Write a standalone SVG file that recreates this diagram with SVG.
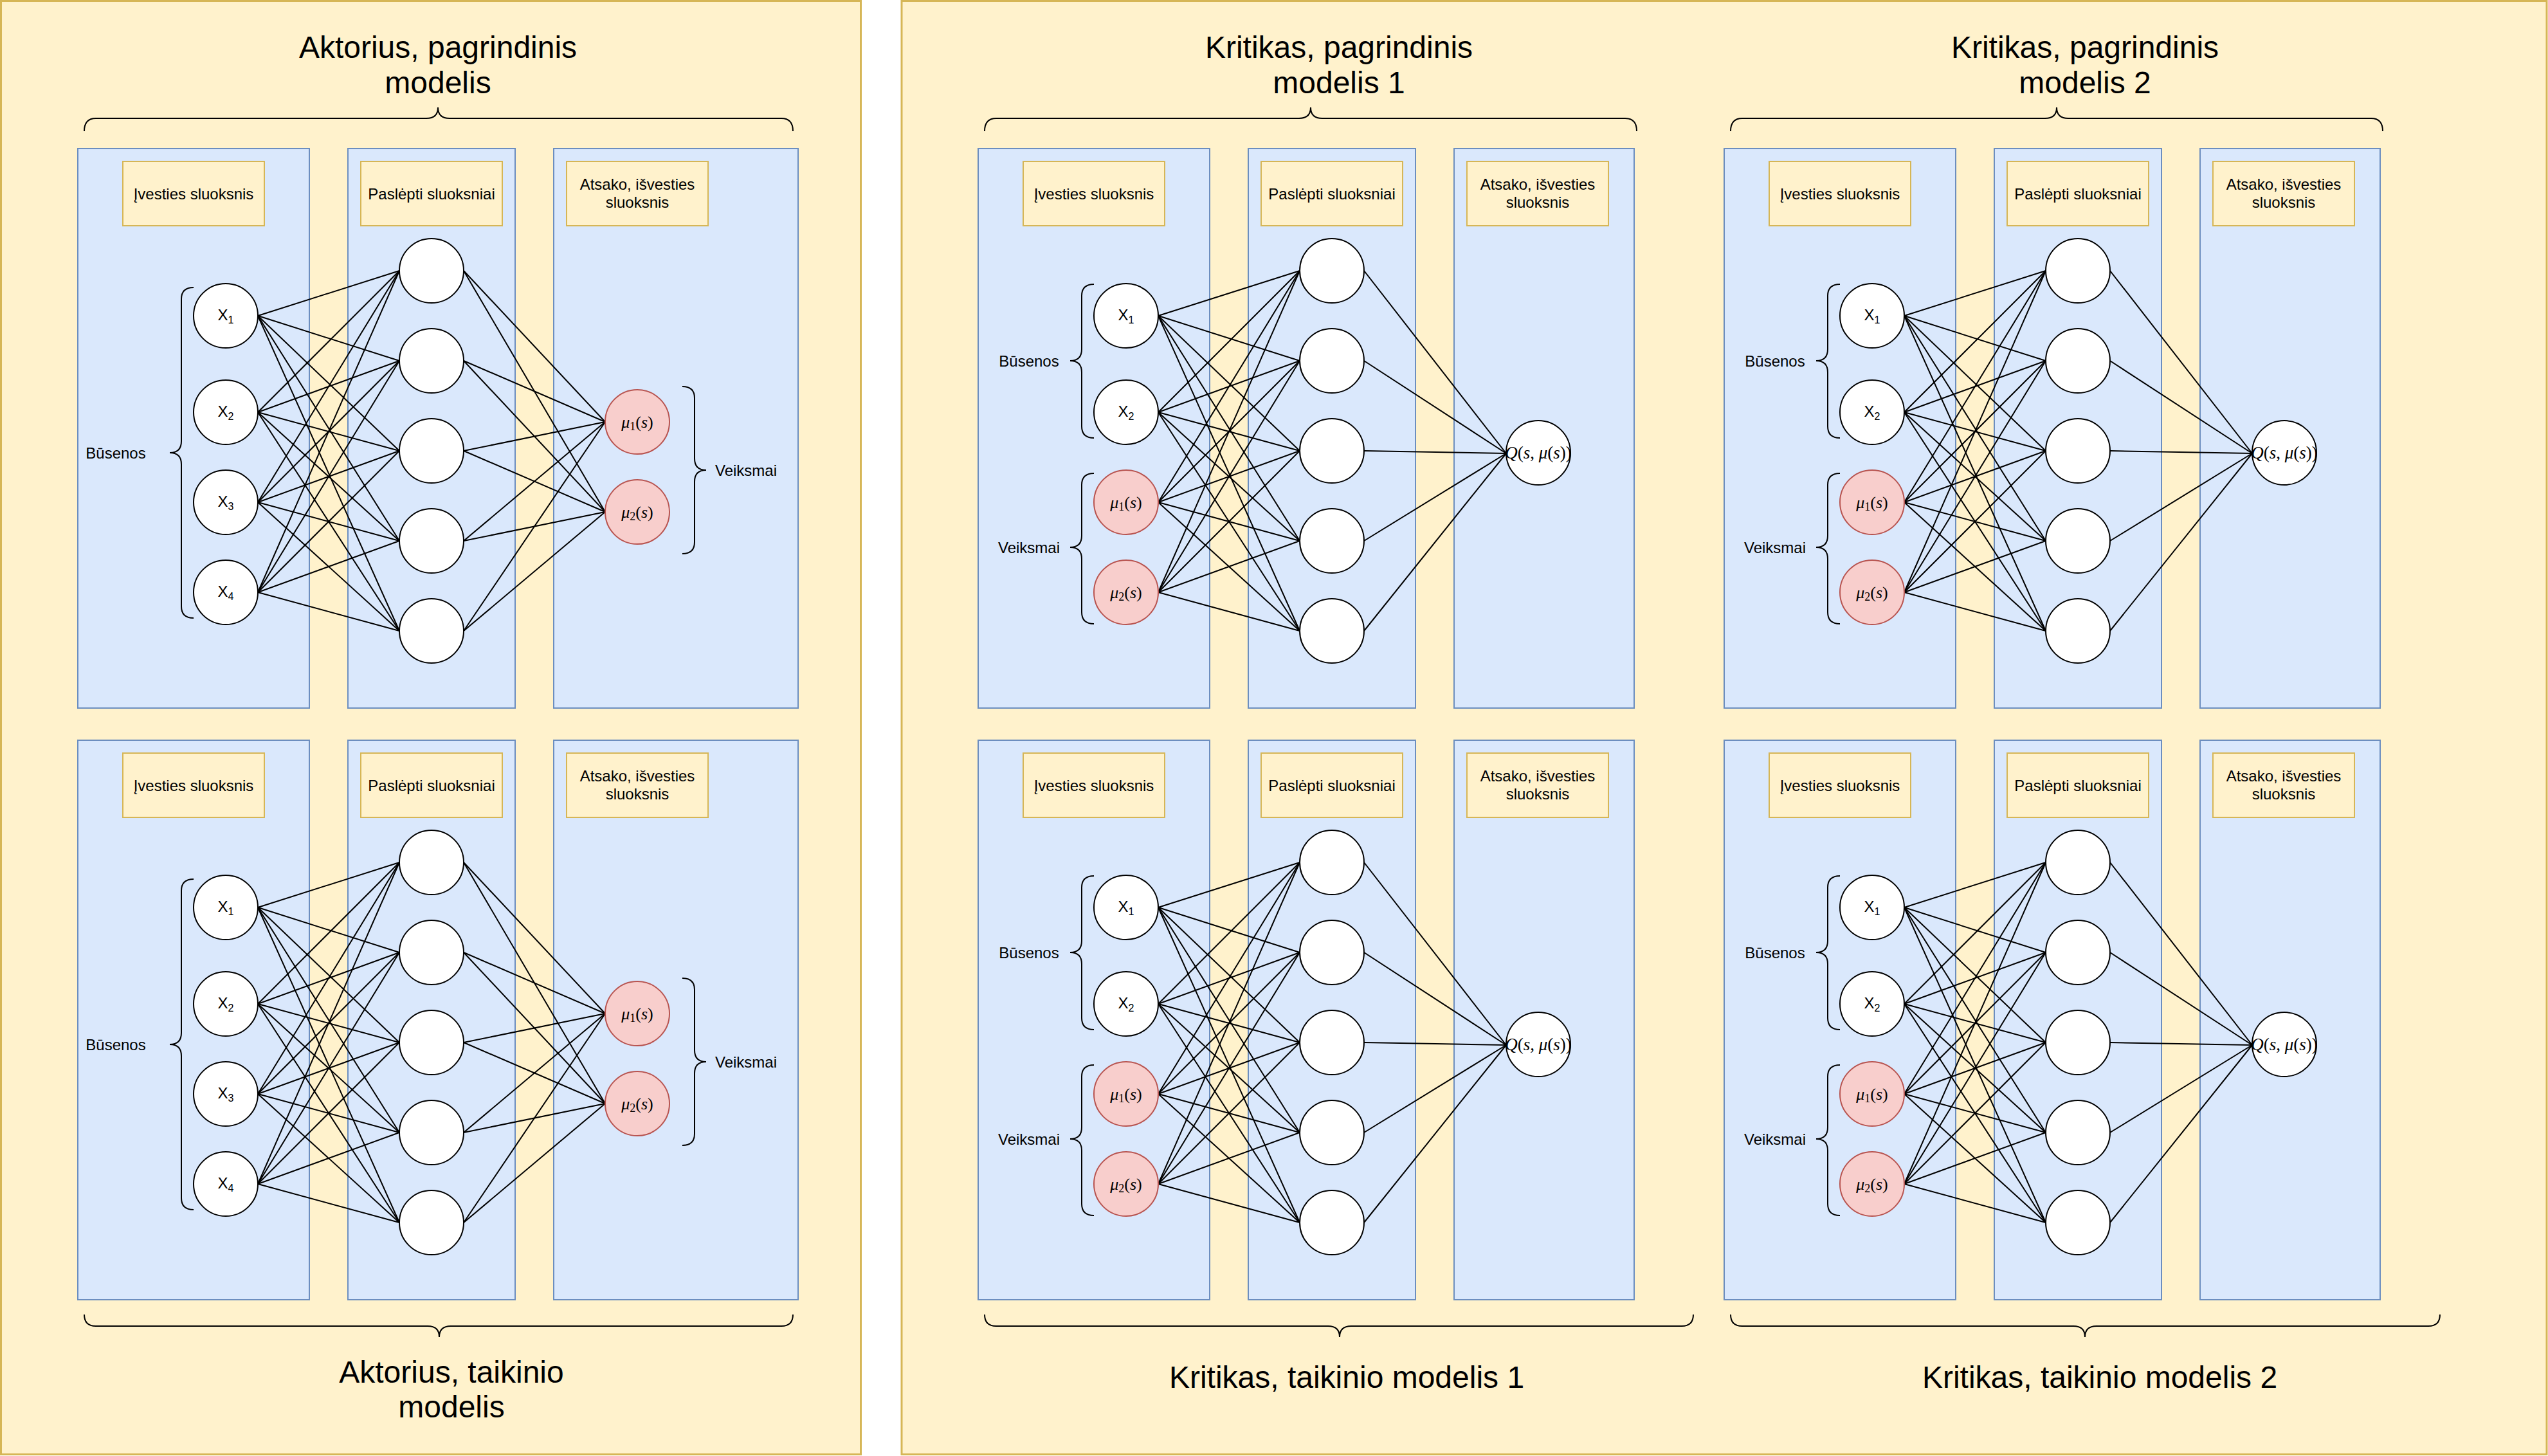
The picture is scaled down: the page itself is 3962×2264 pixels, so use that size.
<svg xmlns="http://www.w3.org/2000/svg" width="3962" height="2264" viewBox="0 0 3962 2264">
<style>
.panel{fill:#fff2cc;stroke:#d6b656;stroke-width:3}
.col{fill:#dae8fc;stroke:#6c8ebf;stroke-width:2}
.lab{fill:#fff2cc;stroke:#d6b656;stroke-width:2}
.n{fill:#ffffff;stroke:#000000;stroke-width:2}
.m{fill:#f8cecc;stroke:#b85450;stroke-width:2}
.e line{stroke:#000000;stroke-width:2}
.br{fill:none;stroke:#000000;stroke-width:2}
text{font-family:"Liberation Sans",Arial,Helvetica,sans-serif;fill:#000000}
.t24{font-size:24px}
.t48{font-size:48px}
.c{text-anchor:middle}
.math{font-family:"Liberation Serif","Times New Roman",serif;font-size:26px;text-anchor:middle}
.mq{font-family:"Liberation Serif","Times New Roman",serif;font-size:27px;text-anchor:middle}
.i{font-style:italic}
</style>

<g id="panels">
<rect class="panel" x="1.5" y="1.5" width="1337" height="2260"/>
<rect class="panel" x="1402" y="1.5" width="2558" height="2260"/>
</g>

<!-- ================= ACTOR MAIN ================= -->
<g id="actor-main">
 <g id="am-layers">
  <rect class="col" x="121" y="231" width="360" height="870"/>
  <rect class="col" x="541" y="231" width="260" height="870"/>
  <rect class="col" x="861" y="231" width="380" height="870"/>
  <g id="am-lab-in"><rect class="lab" x="191" y="251" width="220" height="100"/><text class="t24 c" x="301" y="309.5">Įvesties sluoksnis</text></g>
  <g id="am-lab-hid"><rect class="lab" x="561" y="251" width="220" height="100"/><text class="t24 c" x="671" y="309.5">Paslėpti sluoksniai</text></g>
  <g id="am-lab-out"><rect class="lab" x="881" y="251" width="220" height="100"/><text class="t24 c" x="991" y="295">Atsako, išvesties</text><text class="t24 c" x="991" y="322.5">sluoksnis</text></g>
 </g>
 <g id="am-edges" class="e">
  <line x1="401" y1="491" x2="621" y2="421"/><line x1="401" y1="491" x2="621" y2="561"/><line x1="401" y1="491" x2="621" y2="701"/><line x1="401" y1="491" x2="621" y2="841"/><line x1="401" y1="491" x2="621" y2="981"/>
  <line x1="401" y1="641" x2="621" y2="421"/><line x1="401" y1="641" x2="621" y2="561"/><line x1="401" y1="641" x2="621" y2="701"/><line x1="401" y1="641" x2="621" y2="841"/><line x1="401" y1="641" x2="621" y2="981"/>
  <line x1="401" y1="781" x2="621" y2="421"/><line x1="401" y1="781" x2="621" y2="561"/><line x1="401" y1="781" x2="621" y2="701"/><line x1="401" y1="781" x2="621" y2="841"/><line x1="401" y1="781" x2="621" y2="981"/>
  <line x1="401" y1="921" x2="621" y2="421"/><line x1="401" y1="921" x2="621" y2="561"/><line x1="401" y1="921" x2="621" y2="701"/><line x1="401" y1="921" x2="621" y2="841"/><line x1="401" y1="921" x2="621" y2="981"/>
  <line x1="721" y1="421" x2="941" y2="656"/><line x1="721" y1="421" x2="941" y2="796"/>
  <line x1="721" y1="561" x2="941" y2="656"/><line x1="721" y1="561" x2="941" y2="796"/>
  <line x1="721" y1="701" x2="941" y2="656"/><line x1="721" y1="701" x2="941" y2="796"/>
  <line x1="721" y1="841" x2="941" y2="656"/><line x1="721" y1="841" x2="941" y2="796"/>
  <line x1="721" y1="981" x2="941" y2="656"/><line x1="721" y1="981" x2="941" y2="796"/>
 </g>
 <g id="am-x1"><circle class="n" cx="351" cy="491" r="50"/><text class="t24 c" x="351" y="498">X<tspan font-size="16" dy="5">1</tspan></text></g>
 <g id="am-x2"><circle class="n" cx="351" cy="641" r="50"/><text class="t24 c" x="351" y="648">X<tspan font-size="16" dy="5">2</tspan></text></g>
 <g id="am-x3"><circle class="n" cx="351" cy="781" r="50"/><text class="t24 c" x="351" y="788">X<tspan font-size="16" dy="5">3</tspan></text></g>
 <g id="am-x4"><circle class="n" cx="351" cy="921" r="50"/><text class="t24 c" x="351" y="928">X<tspan font-size="16" dy="5">4</tspan></text></g>
 <g id="am-h1"><circle class="n" cx="671" cy="421" r="50"/></g>
 <g id="am-h2"><circle class="n" cx="671" cy="561" r="50"/></g>
 <g id="am-h3"><circle class="n" cx="671" cy="701" r="50"/></g>
 <g id="am-h4"><circle class="n" cx="671" cy="841" r="50"/></g>
 <g id="am-h5"><circle class="n" cx="671" cy="981" r="50"/></g>
 <g id="am-mu1"><circle class="m" cx="991" cy="656" r="50"/><text class="math" x="991" y="665"><tspan class="i">μ</tspan><tspan font-size="18" dy="4">1</tspan><tspan dy="-4">(</tspan><tspan class="i">s</tspan>)</text></g>
 <g id="am-mu2"><circle class="m" cx="991" cy="796" r="50"/><text class="math" x="991" y="805"><tspan class="i">μ</tspan><tspan font-size="18" dy="4">2</tspan><tspan dy="-4">(</tspan><tspan class="i">s</tspan>)</text></g>
 <g id="am-busenos"><path class="br" d="M301,447 Q282,447 282,465 L282,686 Q282,704 264,704 Q282,704 282,722 L282,943 Q282,961 301,961"/><text class="t24 c" x="180" y="713">Būsenos</text></g>
 <g id="am-veiksmai"><path class="br" d="M1061,601 Q1080,601 1080,619 L1080,713 Q1080,731 1098,731 Q1080,731 1080,749 L1080,843 Q1080,861 1061,861"/><text class="t24" x="1112" y="740">Veiksmai</text></g>
</g>

<!-- ================= ACTOR TARGET ================= -->
<g id="actor-target" transform="translate(0,920)">
 <g id="at-layers">
  <rect class="col" x="121" y="231" width="360" height="870"/>
  <rect class="col" x="541" y="231" width="260" height="870"/>
  <rect class="col" x="861" y="231" width="380" height="870"/>
  <g id="at-lab-in"><rect class="lab" x="191" y="251" width="220" height="100"/><text class="t24 c" x="301" y="309.5">Įvesties sluoksnis</text></g>
  <g id="at-lab-hid"><rect class="lab" x="561" y="251" width="220" height="100"/><text class="t24 c" x="671" y="309.5">Paslėpti sluoksniai</text></g>
  <g id="at-lab-out"><rect class="lab" x="881" y="251" width="220" height="100"/><text class="t24 c" x="991" y="295">Atsako, išvesties</text><text class="t24 c" x="991" y="322.5">sluoksnis</text></g>
 </g>
 <g id="at-edges" class="e">
  <line x1="401" y1="491" x2="621" y2="421"/><line x1="401" y1="491" x2="621" y2="561"/><line x1="401" y1="491" x2="621" y2="701"/><line x1="401" y1="491" x2="621" y2="841"/><line x1="401" y1="491" x2="621" y2="981"/>
  <line x1="401" y1="641" x2="621" y2="421"/><line x1="401" y1="641" x2="621" y2="561"/><line x1="401" y1="641" x2="621" y2="701"/><line x1="401" y1="641" x2="621" y2="841"/><line x1="401" y1="641" x2="621" y2="981"/>
  <line x1="401" y1="781" x2="621" y2="421"/><line x1="401" y1="781" x2="621" y2="561"/><line x1="401" y1="781" x2="621" y2="701"/><line x1="401" y1="781" x2="621" y2="841"/><line x1="401" y1="781" x2="621" y2="981"/>
  <line x1="401" y1="921" x2="621" y2="421"/><line x1="401" y1="921" x2="621" y2="561"/><line x1="401" y1="921" x2="621" y2="701"/><line x1="401" y1="921" x2="621" y2="841"/><line x1="401" y1="921" x2="621" y2="981"/>
  <line x1="721" y1="421" x2="941" y2="656"/><line x1="721" y1="421" x2="941" y2="796"/>
  <line x1="721" y1="561" x2="941" y2="656"/><line x1="721" y1="561" x2="941" y2="796"/>
  <line x1="721" y1="701" x2="941" y2="656"/><line x1="721" y1="701" x2="941" y2="796"/>
  <line x1="721" y1="841" x2="941" y2="656"/><line x1="721" y1="841" x2="941" y2="796"/>
  <line x1="721" y1="981" x2="941" y2="656"/><line x1="721" y1="981" x2="941" y2="796"/>
 </g>
 <g id="at-x1"><circle class="n" cx="351" cy="491" r="50"/><text class="t24 c" x="351" y="498">X<tspan font-size="16" dy="5">1</tspan></text></g>
 <g id="at-x2"><circle class="n" cx="351" cy="641" r="50"/><text class="t24 c" x="351" y="648">X<tspan font-size="16" dy="5">2</tspan></text></g>
 <g id="at-x3"><circle class="n" cx="351" cy="781" r="50"/><text class="t24 c" x="351" y="788">X<tspan font-size="16" dy="5">3</tspan></text></g>
 <g id="at-x4"><circle class="n" cx="351" cy="921" r="50"/><text class="t24 c" x="351" y="928">X<tspan font-size="16" dy="5">4</tspan></text></g>
 <g id="at-h1"><circle class="n" cx="671" cy="421" r="50"/></g>
 <g id="at-h2"><circle class="n" cx="671" cy="561" r="50"/></g>
 <g id="at-h3"><circle class="n" cx="671" cy="701" r="50"/></g>
 <g id="at-h4"><circle class="n" cx="671" cy="841" r="50"/></g>
 <g id="at-h5"><circle class="n" cx="671" cy="981" r="50"/></g>
 <g id="at-mu1"><circle class="m" cx="991" cy="656" r="50"/><text class="math" x="991" y="665"><tspan class="i">μ</tspan><tspan font-size="18" dy="4">1</tspan><tspan dy="-4">(</tspan><tspan class="i">s</tspan>)</text></g>
 <g id="at-mu2"><circle class="m" cx="991" cy="796" r="50"/><text class="math" x="991" y="805"><tspan class="i">μ</tspan><tspan font-size="18" dy="4">2</tspan><tspan dy="-4">(</tspan><tspan class="i">s</tspan>)</text></g>
 <g id="at-busenos"><path class="br" d="M301,447 Q282,447 282,465 L282,686 Q282,704 264,704 Q282,704 282,722 L282,943 Q282,961 301,961"/><text class="t24 c" x="180" y="713">Būsenos</text></g>
 <g id="at-veiksmai"><path class="br" d="M1061,601 Q1080,601 1080,619 L1080,713 Q1080,731 1098,731 Q1080,731 1080,749 L1080,843 Q1080,861 1061,861"/><text class="t24" x="1112" y="740">Veiksmai</text></g>
</g>

<!-- ================= CRITIC 1 MAIN ================= -->
<g id="critic1-main">
 <g id="c1m-layers">
  <rect class="col" x="1521" y="231" width="360" height="870"/>
  <rect class="col" x="1941" y="231" width="260" height="870"/>
  <rect class="col" x="2261" y="231" width="280" height="870"/>
  <g id="c1m-lab-in"><rect class="lab" x="1591" y="251" width="220" height="100"/><text class="t24 c" x="1701" y="309.5">Įvesties sluoksnis</text></g>
  <g id="c1m-lab-hid"><rect class="lab" x="1961" y="251" width="220" height="100"/><text class="t24 c" x="2071" y="309.5">Paslėpti sluoksniai</text></g>
  <g id="c1m-lab-out"><rect class="lab" x="2281" y="251" width="220" height="100"/><text class="t24 c" x="2391" y="295">Atsako, išvesties</text><text class="t24 c" x="2391" y="322.5">sluoksnis</text></g>
 </g>
 <g id="c1m-edges" class="e">
  <line x1="1801" y1="491" x2="2021" y2="421"/><line x1="1801" y1="491" x2="2021" y2="561"/><line x1="1801" y1="491" x2="2021" y2="701"/><line x1="1801" y1="491" x2="2021" y2="841"/><line x1="1801" y1="491" x2="2021" y2="981"/>
  <line x1="1801" y1="641" x2="2021" y2="421"/><line x1="1801" y1="641" x2="2021" y2="561"/><line x1="1801" y1="641" x2="2021" y2="701"/><line x1="1801" y1="641" x2="2021" y2="841"/><line x1="1801" y1="641" x2="2021" y2="981"/>
  <line x1="1801" y1="781" x2="2021" y2="421"/><line x1="1801" y1="781" x2="2021" y2="561"/><line x1="1801" y1="781" x2="2021" y2="701"/><line x1="1801" y1="781" x2="2021" y2="841"/><line x1="1801" y1="781" x2="2021" y2="981"/>
  <line x1="1801" y1="921" x2="2021" y2="421"/><line x1="1801" y1="921" x2="2021" y2="561"/><line x1="1801" y1="921" x2="2021" y2="701"/><line x1="1801" y1="921" x2="2021" y2="841"/><line x1="1801" y1="921" x2="2021" y2="981"/>
  <line x1="2121" y1="421" x2="2342" y2="705"/><line x1="2121" y1="561" x2="2342" y2="705"/><line x1="2121" y1="701" x2="2342" y2="705"/><line x1="2121" y1="841" x2="2342" y2="705"/><line x1="2121" y1="981" x2="2342" y2="705"/>
 </g>
 <g id="c1m-x1"><circle class="n" cx="1751" cy="491" r="50"/><text class="t24 c" x="1751" y="498">X<tspan font-size="16" dy="5">1</tspan></text></g>
 <g id="c1m-x2"><circle class="n" cx="1751" cy="641" r="50"/><text class="t24 c" x="1751" y="648">X<tspan font-size="16" dy="5">2</tspan></text></g>
 <g id="c1m-mu1"><circle class="m" cx="1751" cy="781" r="50"/><text class="math" x="1751" y="790"><tspan class="i">μ</tspan><tspan font-size="18" dy="4">1</tspan><tspan dy="-4">(</tspan><tspan class="i">s</tspan>)</text></g>
 <g id="c1m-mu2"><circle class="m" cx="1751" cy="921" r="50"/><text class="math" x="1751" y="930"><tspan class="i">μ</tspan><tspan font-size="18" dy="4">2</tspan><tspan dy="-4">(</tspan><tspan class="i">s</tspan>)</text></g>
 <g id="c1m-h1"><circle class="n" cx="2071" cy="421" r="50"/></g>
 <g id="c1m-h2"><circle class="n" cx="2071" cy="561" r="50"/></g>
 <g id="c1m-h3"><circle class="n" cx="2071" cy="701" r="50"/></g>
 <g id="c1m-h4"><circle class="n" cx="2071" cy="841" r="50"/></g>
 <g id="c1m-h5"><circle class="n" cx="2071" cy="981" r="50"/></g>
 <g id="c1m-q"><circle class="n" cx="2392" cy="704" r="50"/><text class="mq" x="2392" y="713"><tspan class="i">Q</tspan>(<tspan class="i">s</tspan>, <tspan class="i">μ</tspan>(<tspan class="i">s</tspan>))</text></g>
 <g id="c1m-busenos"><path class="br" d="M1701,442 Q1682,442 1682,460 L1682,543 Q1682,561 1664,561 Q1682,561 1682,579 L1682,663 Q1682,681 1701,681"/><text class="t24 c" x="1600" y="570">Būsenos</text></g>
 <g id="c1m-veiksmai"><path class="br" d="M1701,736 Q1682,736 1682,754 L1682,833 Q1682,851 1664,851 Q1682,851 1682,869 L1682,952 Q1682,970 1701,970"/><text class="t24 c" x="1600" y="860">Veiksmai</text></g>
</g>

<!-- ================= CRITIC 1 TARGET ================= -->
<g id="critic1-target" transform="translate(0,920)">
 <g id="c1t-layers">
  <rect class="col" x="1521" y="231" width="360" height="870"/>
  <rect class="col" x="1941" y="231" width="260" height="870"/>
  <rect class="col" x="2261" y="231" width="280" height="870"/>
  <g id="c1t-lab-in"><rect class="lab" x="1591" y="251" width="220" height="100"/><text class="t24 c" x="1701" y="309.5">Įvesties sluoksnis</text></g>
  <g id="c1t-lab-hid"><rect class="lab" x="1961" y="251" width="220" height="100"/><text class="t24 c" x="2071" y="309.5">Paslėpti sluoksniai</text></g>
  <g id="c1t-lab-out"><rect class="lab" x="2281" y="251" width="220" height="100"/><text class="t24 c" x="2391" y="295">Atsako, išvesties</text><text class="t24 c" x="2391" y="322.5">sluoksnis</text></g>
 </g>
 <g id="c1t-edges" class="e">
  <line x1="1801" y1="491" x2="2021" y2="421"/><line x1="1801" y1="491" x2="2021" y2="561"/><line x1="1801" y1="491" x2="2021" y2="701"/><line x1="1801" y1="491" x2="2021" y2="841"/><line x1="1801" y1="491" x2="2021" y2="981"/>
  <line x1="1801" y1="641" x2="2021" y2="421"/><line x1="1801" y1="641" x2="2021" y2="561"/><line x1="1801" y1="641" x2="2021" y2="701"/><line x1="1801" y1="641" x2="2021" y2="841"/><line x1="1801" y1="641" x2="2021" y2="981"/>
  <line x1="1801" y1="781" x2="2021" y2="421"/><line x1="1801" y1="781" x2="2021" y2="561"/><line x1="1801" y1="781" x2="2021" y2="701"/><line x1="1801" y1="781" x2="2021" y2="841"/><line x1="1801" y1="781" x2="2021" y2="981"/>
  <line x1="1801" y1="921" x2="2021" y2="421"/><line x1="1801" y1="921" x2="2021" y2="561"/><line x1="1801" y1="921" x2="2021" y2="701"/><line x1="1801" y1="921" x2="2021" y2="841"/><line x1="1801" y1="921" x2="2021" y2="981"/>
  <line x1="2121" y1="421" x2="2342" y2="705"/><line x1="2121" y1="561" x2="2342" y2="705"/><line x1="2121" y1="701" x2="2342" y2="705"/><line x1="2121" y1="841" x2="2342" y2="705"/><line x1="2121" y1="981" x2="2342" y2="705"/>
 </g>
 <g id="c1t-x1"><circle class="n" cx="1751" cy="491" r="50"/><text class="t24 c" x="1751" y="498">X<tspan font-size="16" dy="5">1</tspan></text></g>
 <g id="c1t-x2"><circle class="n" cx="1751" cy="641" r="50"/><text class="t24 c" x="1751" y="648">X<tspan font-size="16" dy="5">2</tspan></text></g>
 <g id="c1t-mu1"><circle class="m" cx="1751" cy="781" r="50"/><text class="math" x="1751" y="790"><tspan class="i">μ</tspan><tspan font-size="18" dy="4">1</tspan><tspan dy="-4">(</tspan><tspan class="i">s</tspan>)</text></g>
 <g id="c1t-mu2"><circle class="m" cx="1751" cy="921" r="50"/><text class="math" x="1751" y="930"><tspan class="i">μ</tspan><tspan font-size="18" dy="4">2</tspan><tspan dy="-4">(</tspan><tspan class="i">s</tspan>)</text></g>
 <g id="c1t-h1"><circle class="n" cx="2071" cy="421" r="50"/></g>
 <g id="c1t-h2"><circle class="n" cx="2071" cy="561" r="50"/></g>
 <g id="c1t-h3"><circle class="n" cx="2071" cy="701" r="50"/></g>
 <g id="c1t-h4"><circle class="n" cx="2071" cy="841" r="50"/></g>
 <g id="c1t-h5"><circle class="n" cx="2071" cy="981" r="50"/></g>
 <g id="c1t-q"><circle class="n" cx="2392" cy="704" r="50"/><text class="mq" x="2392" y="713"><tspan class="i">Q</tspan>(<tspan class="i">s</tspan>, <tspan class="i">μ</tspan>(<tspan class="i">s</tspan>))</text></g>
 <g id="c1t-busenos"><path class="br" d="M1701,442 Q1682,442 1682,460 L1682,543 Q1682,561 1664,561 Q1682,561 1682,579 L1682,663 Q1682,681 1701,681"/><text class="t24 c" x="1600" y="570">Būsenos</text></g>
 <g id="c1t-veiksmai"><path class="br" d="M1701,736 Q1682,736 1682,754 L1682,833 Q1682,851 1664,851 Q1682,851 1682,869 L1682,952 Q1682,970 1701,970"/><text class="t24 c" x="1600" y="860">Veiksmai</text></g>
</g>

<!-- ================= CRITIC 2 MAIN ================= -->
<g id="critic2-main" transform="translate(1160,0)">
 <g id="c2m-layers">
  <rect class="col" x="1521" y="231" width="360" height="870"/>
  <rect class="col" x="1941" y="231" width="260" height="870"/>
  <rect class="col" x="2261" y="231" width="280" height="870"/>
  <g id="c2m-lab-in"><rect class="lab" x="1591" y="251" width="220" height="100"/><text class="t24 c" x="1701" y="309.5">Įvesties sluoksnis</text></g>
  <g id="c2m-lab-hid"><rect class="lab" x="1961" y="251" width="220" height="100"/><text class="t24 c" x="2071" y="309.5">Paslėpti sluoksniai</text></g>
  <g id="c2m-lab-out"><rect class="lab" x="2281" y="251" width="220" height="100"/><text class="t24 c" x="2391" y="295">Atsako, išvesties</text><text class="t24 c" x="2391" y="322.5">sluoksnis</text></g>
 </g>
 <g id="c2m-edges" class="e">
  <line x1="1801" y1="491" x2="2021" y2="421"/><line x1="1801" y1="491" x2="2021" y2="561"/><line x1="1801" y1="491" x2="2021" y2="701"/><line x1="1801" y1="491" x2="2021" y2="841"/><line x1="1801" y1="491" x2="2021" y2="981"/>
  <line x1="1801" y1="641" x2="2021" y2="421"/><line x1="1801" y1="641" x2="2021" y2="561"/><line x1="1801" y1="641" x2="2021" y2="701"/><line x1="1801" y1="641" x2="2021" y2="841"/><line x1="1801" y1="641" x2="2021" y2="981"/>
  <line x1="1801" y1="781" x2="2021" y2="421"/><line x1="1801" y1="781" x2="2021" y2="561"/><line x1="1801" y1="781" x2="2021" y2="701"/><line x1="1801" y1="781" x2="2021" y2="841"/><line x1="1801" y1="781" x2="2021" y2="981"/>
  <line x1="1801" y1="921" x2="2021" y2="421"/><line x1="1801" y1="921" x2="2021" y2="561"/><line x1="1801" y1="921" x2="2021" y2="701"/><line x1="1801" y1="921" x2="2021" y2="841"/><line x1="1801" y1="921" x2="2021" y2="981"/>
  <line x1="2121" y1="421" x2="2342" y2="705"/><line x1="2121" y1="561" x2="2342" y2="705"/><line x1="2121" y1="701" x2="2342" y2="705"/><line x1="2121" y1="841" x2="2342" y2="705"/><line x1="2121" y1="981" x2="2342" y2="705"/>
 </g>
 <g id="c2m-x1"><circle class="n" cx="1751" cy="491" r="50"/><text class="t24 c" x="1751" y="498">X<tspan font-size="16" dy="5">1</tspan></text></g>
 <g id="c2m-x2"><circle class="n" cx="1751" cy="641" r="50"/><text class="t24 c" x="1751" y="648">X<tspan font-size="16" dy="5">2</tspan></text></g>
 <g id="c2m-mu1"><circle class="m" cx="1751" cy="781" r="50"/><text class="math" x="1751" y="790"><tspan class="i">μ</tspan><tspan font-size="18" dy="4">1</tspan><tspan dy="-4">(</tspan><tspan class="i">s</tspan>)</text></g>
 <g id="c2m-mu2"><circle class="m" cx="1751" cy="921" r="50"/><text class="math" x="1751" y="930"><tspan class="i">μ</tspan><tspan font-size="18" dy="4">2</tspan><tspan dy="-4">(</tspan><tspan class="i">s</tspan>)</text></g>
 <g id="c2m-h1"><circle class="n" cx="2071" cy="421" r="50"/></g>
 <g id="c2m-h2"><circle class="n" cx="2071" cy="561" r="50"/></g>
 <g id="c2m-h3"><circle class="n" cx="2071" cy="701" r="50"/></g>
 <g id="c2m-h4"><circle class="n" cx="2071" cy="841" r="50"/></g>
 <g id="c2m-h5"><circle class="n" cx="2071" cy="981" r="50"/></g>
 <g id="c2m-q"><circle class="n" cx="2392" cy="704" r="50"/><text class="mq" x="2392" y="713"><tspan class="i">Q</tspan>(<tspan class="i">s</tspan>, <tspan class="i">μ</tspan>(<tspan class="i">s</tspan>))</text></g>
 <g id="c2m-busenos"><path class="br" d="M1701,442 Q1682,442 1682,460 L1682,543 Q1682,561 1664,561 Q1682,561 1682,579 L1682,663 Q1682,681 1701,681"/><text class="t24 c" x="1600" y="570">Būsenos</text></g>
 <g id="c2m-veiksmai"><path class="br" d="M1701,736 Q1682,736 1682,754 L1682,833 Q1682,851 1664,851 Q1682,851 1682,869 L1682,952 Q1682,970 1701,970"/><text class="t24 c" x="1600" y="860">Veiksmai</text></g>
</g>

<!-- ================= CRITIC 2 TARGET ================= -->
<g id="critic2-target" transform="translate(1160,920)">
 <g id="c2t-layers">
  <rect class="col" x="1521" y="231" width="360" height="870"/>
  <rect class="col" x="1941" y="231" width="260" height="870"/>
  <rect class="col" x="2261" y="231" width="280" height="870"/>
  <g id="c2t-lab-in"><rect class="lab" x="1591" y="251" width="220" height="100"/><text class="t24 c" x="1701" y="309.5">Įvesties sluoksnis</text></g>
  <g id="c2t-lab-hid"><rect class="lab" x="1961" y="251" width="220" height="100"/><text class="t24 c" x="2071" y="309.5">Paslėpti sluoksniai</text></g>
  <g id="c2t-lab-out"><rect class="lab" x="2281" y="251" width="220" height="100"/><text class="t24 c" x="2391" y="295">Atsako, išvesties</text><text class="t24 c" x="2391" y="322.5">sluoksnis</text></g>
 </g>
 <g id="c2t-edges" class="e">
  <line x1="1801" y1="491" x2="2021" y2="421"/><line x1="1801" y1="491" x2="2021" y2="561"/><line x1="1801" y1="491" x2="2021" y2="701"/><line x1="1801" y1="491" x2="2021" y2="841"/><line x1="1801" y1="491" x2="2021" y2="981"/>
  <line x1="1801" y1="641" x2="2021" y2="421"/><line x1="1801" y1="641" x2="2021" y2="561"/><line x1="1801" y1="641" x2="2021" y2="701"/><line x1="1801" y1="641" x2="2021" y2="841"/><line x1="1801" y1="641" x2="2021" y2="981"/>
  <line x1="1801" y1="781" x2="2021" y2="421"/><line x1="1801" y1="781" x2="2021" y2="561"/><line x1="1801" y1="781" x2="2021" y2="701"/><line x1="1801" y1="781" x2="2021" y2="841"/><line x1="1801" y1="781" x2="2021" y2="981"/>
  <line x1="1801" y1="921" x2="2021" y2="421"/><line x1="1801" y1="921" x2="2021" y2="561"/><line x1="1801" y1="921" x2="2021" y2="701"/><line x1="1801" y1="921" x2="2021" y2="841"/><line x1="1801" y1="921" x2="2021" y2="981"/>
  <line x1="2121" y1="421" x2="2342" y2="705"/><line x1="2121" y1="561" x2="2342" y2="705"/><line x1="2121" y1="701" x2="2342" y2="705"/><line x1="2121" y1="841" x2="2342" y2="705"/><line x1="2121" y1="981" x2="2342" y2="705"/>
 </g>
 <g id="c2t-x1"><circle class="n" cx="1751" cy="491" r="50"/><text class="t24 c" x="1751" y="498">X<tspan font-size="16" dy="5">1</tspan></text></g>
 <g id="c2t-x2"><circle class="n" cx="1751" cy="641" r="50"/><text class="t24 c" x="1751" y="648">X<tspan font-size="16" dy="5">2</tspan></text></g>
 <g id="c2t-mu1"><circle class="m" cx="1751" cy="781" r="50"/><text class="math" x="1751" y="790"><tspan class="i">μ</tspan><tspan font-size="18" dy="4">1</tspan><tspan dy="-4">(</tspan><tspan class="i">s</tspan>)</text></g>
 <g id="c2t-mu2"><circle class="m" cx="1751" cy="921" r="50"/><text class="math" x="1751" y="930"><tspan class="i">μ</tspan><tspan font-size="18" dy="4">2</tspan><tspan dy="-4">(</tspan><tspan class="i">s</tspan>)</text></g>
 <g id="c2t-h1"><circle class="n" cx="2071" cy="421" r="50"/></g>
 <g id="c2t-h2"><circle class="n" cx="2071" cy="561" r="50"/></g>
 <g id="c2t-h3"><circle class="n" cx="2071" cy="701" r="50"/></g>
 <g id="c2t-h4"><circle class="n" cx="2071" cy="841" r="50"/></g>
 <g id="c2t-h5"><circle class="n" cx="2071" cy="981" r="50"/></g>
 <g id="c2t-q"><circle class="n" cx="2392" cy="704" r="50"/><text class="mq" x="2392" y="713"><tspan class="i">Q</tspan>(<tspan class="i">s</tspan>, <tspan class="i">μ</tspan>(<tspan class="i">s</tspan>))</text></g>
 <g id="c2t-busenos"><path class="br" d="M1701,442 Q1682,442 1682,460 L1682,543 Q1682,561 1664,561 Q1682,561 1682,579 L1682,663 Q1682,681 1701,681"/><text class="t24 c" x="1600" y="570">Būsenos</text></g>
 <g id="c2t-veiksmai"><path class="br" d="M1701,736 Q1682,736 1682,754 L1682,833 Q1682,851 1664,851 Q1682,851 1682,869 L1682,952 Q1682,970 1701,970"/><text class="t24 c" x="1600" y="860">Veiksmai</text></g>
</g>

<!-- ================= TITLES AND BIG BRACES ================= -->
<g id="title-actor-main">
 <path class="br" d="M131,204 Q131,184 149,184 L663,184 Q681,184 681,167 Q681,184 699,184 L1215,184 Q1233,184 1233,204"/>
 <text class="t48 c" x="681" y="90">Aktorius, pagrindinis</text>
 <text class="t48 c" x="681" y="145">modelis</text>
</g>
<g id="title-actor-target">
 <path class="br" d="M131,2044 Q131,2062 149,2062 L665,2062 Q683,2062 683,2079 Q683,2062 701,2062 L1215,2062 Q1233,2062 1233,2044"/>
 <text class="t48 c" x="702" y="2150">Aktorius, taikinio</text>
 <text class="t48 c" x="702" y="2204">modelis</text>
</g>
<g id="title-critic1-main">
 <path class="br" d="M1531,204 Q1531,184 1549,184 L2020,184 Q2038,184 2038,167 Q2038,184 2056,184 L2527,184 Q2545,184 2545,204"/>
 <text class="t48 c" x="2082" y="90">Kritikas, pagrindinis</text>
 <text class="t48 c" x="2082" y="145">modelis 1</text>
</g>
<g id="title-critic1-target">
 <path class="br" d="M1531,2044 Q1531,2062 1549,2062 L2065,2062 Q2083,2062 2083,2079 Q2083,2062 2101,2062 L2615,2062 Q2633,2062 2633,2044"/>
 <text class="t48 c" x="2094" y="2158">Kritikas, taikinio modelis 1</text>
</g>
<g id="title-critic2-main">
 <path class="br" d="M2691,204 Q2691,184 2709,184 L3180,184 Q3198,184 3198,167 Q3198,184 3216,184 L3687,184 Q3705,184 3705,204"/>
 <text class="t48 c" x="3242" y="90">Kritikas, pagrindinis</text>
 <text class="t48 c" x="3242" y="145">modelis 2</text>
</g>
<g id="title-critic2-target">
 <path class="br" d="M2691,2044 Q2691,2062 2709,2062 L3224,2062 Q3242,2062 3242,2079 Q3242,2062 3260,2062 L3776,2062 Q3794,2062 3794,2044"/>
 <text class="t48 c" x="3265" y="2158">Kritikas, taikinio modelis 2</text>
</g>
</svg>
